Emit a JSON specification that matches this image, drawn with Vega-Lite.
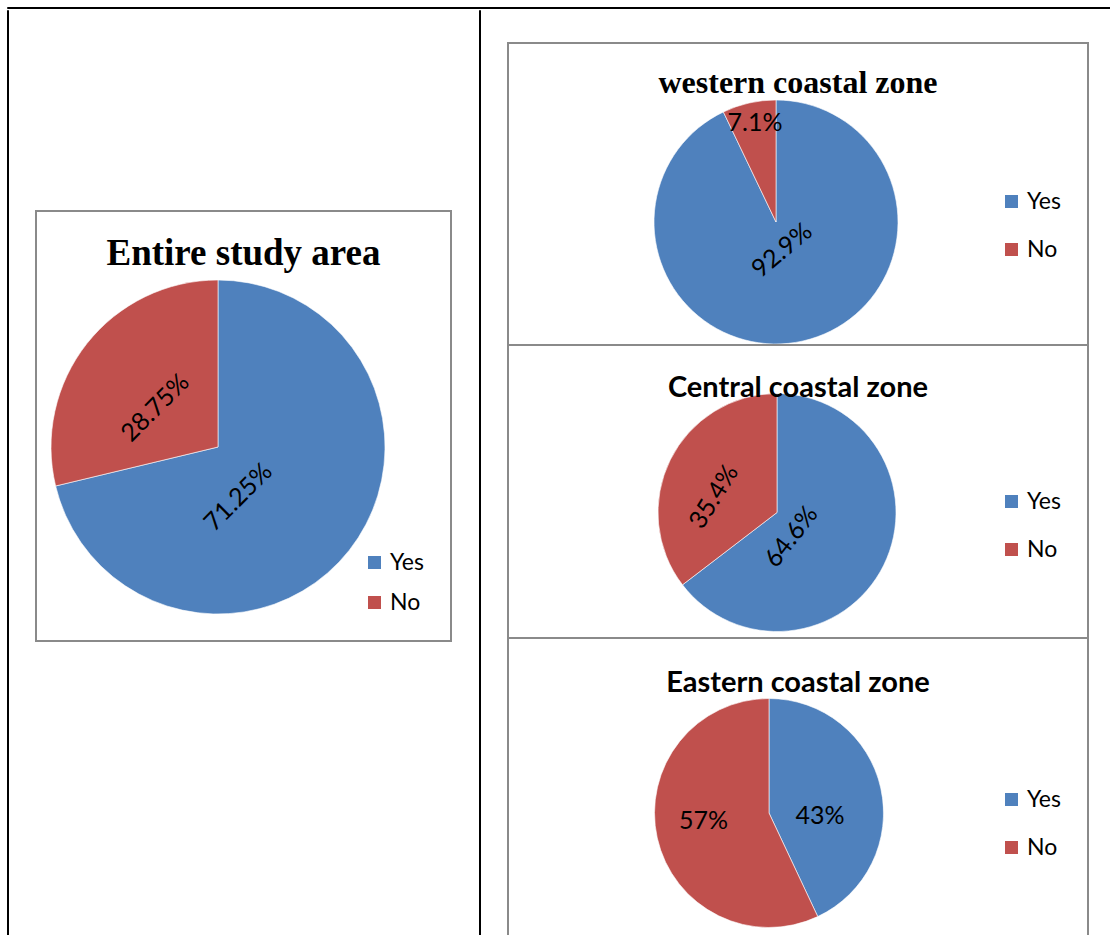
{
  "$schema": "https://vega.github.io/schema/vega-lite/v6.json",
  "padding": {"left": 6, "top": 6, "right": 0, "bottom": 0},
  "background": "white",
  "datasets": {
    "survey": [
      {"zone": "Entire study area", "answer": "Yes", "share": 0.7125},
      {"zone": "Entire study area", "answer": "No", "share": 0.2875},
      {"zone": "western coastal zone", "answer": "Yes", "share": 0.929},
      {"zone": "western coastal zone", "answer": "No", "share": 0.071},
      {"zone": "Central coastal zone", "answer": "Yes", "share": 0.646},
      {"zone": "Central coastal zone", "answer": "No", "share": 0.354},
      {"zone": "Eastern coastal zone", "answer": "Yes", "share": 0.43},
      {"zone": "Eastern coastal zone", "answer": "No", "share": 0.57}
    ]
  },
  "config": {
    "view": {"stroke": null},
    "legend": {
      "symbolType": "square",
      "symbolSize": 169,
      "symbolStrokeWidth": 0,
      "labelFont": "Lato",
      "labelFontSize": 23,
      "labelColor": "black",
      "labelOffset": 4,
      "padding": 0
    },
    "title": {"color": "black", "anchor": "middle", "frame": "group", "baseline": "alphabetic"}
  },
  "spacing": 0,
  "resolve": {"scale": {"color": "independent", "theta": "independent"}, "legend": {"color": "independent"}},
  "vconcat": [
    {
      "width": 1110, "height": 1,
      "data": {"values": []}, "mark": "point",
      "view": {"stroke": "black", "strokeWidth": 1}
    },
    {
      "spacing": 26,
      "resolve": {"scale": {"color": "independent", "theta": "independent"}, "legend": {"color": "independent"}},
      "hconcat": [
        {
          "width": 1, "height": 935,
          "data": {"values": []}, "mark": "point",
          "view": {"stroke": "black", "strokeWidth": 1}
        },
        {
          "spacing": 200,
          "bounds": "flush",
          "resolve": {"scale": {"color": "independent", "theta": "independent"}, "legend": {"color": "independent"}},
          "vconcat": [
            {"width": 415, "height": 1, "data": {"values": []}, "mark": "point"},
            {
              "width": 415, "height": 430,
              "view": {"stroke": "#8a8a8a", "strokeWidth": 2},
              "title": {"text": "Entire study area", "font": "Liberation Serif", "fontSize": 37, "fontWeight": "bold", "offset": -62},
              "data": {"name": "survey"},
              "transform": [{"filter": "datum.zone === 'Entire study area'"}],
              "encoding": {
                "theta": {"field": "share", "type": "quantitative", "stack": true},
                "order": {"field": "answer", "sort": "descending"}
              },
              "layer": [
                {
                  "mark": {"type": "arc", "x": 182, "y": 236, "radius": 167, "stroke": "white", "strokeWidth": 0.6},
                  "encoding": {
                    "color": {
                      "field": "answer", "type": "nominal",
                      "scale": {"domain": ["Yes", "No"], "range": ["#4F81BD", "#C0504D"]},
                      "legend": {"title": null, "orient": "none", "legendX": 327, "legendY": 340, "rowPadding": 16}
                    }
                  }
                },
                {
                  "mark": {"type": "text", "x": 182, "y": 236, "radius": 54, "thetaOffset": 0.519, "angle": 315, "font": "Lato", "fontSize": 25, "align": "center", "baseline": "middle", "color": "black"},
                  "encoding": {
                    "detail": {"field": "answer"},
                    "text": {"condition": {"test": "datum.answer === 'Yes'", "field": "share", "type": "quantitative", "format": ".2%"}, "value": ""}
                  }
                },
                {
                  "mark": {"type": "text", "x": 182, "y": 236, "radius": 74, "thetaOffset": -0.109, "angle": 315, "font": "Lato", "fontSize": 25, "align": "center", "baseline": "middle", "color": "black"},
                  "encoding": {
                    "detail": {"field": "answer"},
                    "text": {"condition": {"test": "datum.answer === 'No'", "field": "share", "type": "quantitative", "format": ".2%"}, "value": ""}
                  }
                }
              ]
            }
          ]
        },
        {
          "width": 1, "height": 935,
          "data": {"values": []}, "mark": "point",
          "view": {"stroke": "black", "strokeWidth": 1}
        },
        {
          "spacing": 31,
          "resolve": {"scale": {"color": "independent", "theta": "independent"}, "legend": {"color": "independent"}},
          "vconcat": [
            {"width": 580, "height": 1, "data": {"values": []}, "mark": "point"},
            {
              "spacing": 0,
              "bounds": "flush",
              "resolve": {"scale": {"color": "independent", "theta": "independent"}, "legend": {"color": "independent"}},
              "vconcat": [
                {
                  "width": 580, "height": 302,
                  "view": {"stroke": "#8a8a8a", "strokeWidth": 2},
                  "title": {"text": "western coastal zone", "font": "Liberation Serif", "fontSize": 32, "fontWeight": "bold", "offset": -57},
                  "data": {"name": "survey"},
                  "transform": [{"filter": "datum.zone === 'western coastal zone'"}],
                  "encoding": {
                    "theta": {"field": "share", "type": "quantitative", "stack": true},
                    "order": {"field": "answer", "sort": "descending"}
                  },
                  "layer": [
                    {
                      "mark": {"type": "arc", "x": 268, "y": 179, "radius": 122, "stroke": "white", "strokeWidth": 0.6},
                      "encoding": {
                        "color": {
                          "field": "answer", "type": "nominal",
                          "scale": {"domain": ["Yes", "No"], "range": ["#4F81BD", "#C0504D"]},
                          "legend": {"title": null, "orient": "none", "legendX": 492, "legendY": 147, "rowPadding": 24}
                        }
                      }
                    },
                    {
                      "mark": {"type": "text", "x": 268, "y": 179, "radius": 29, "thetaOffset": 0.014, "angle": 320, "font": "Lato", "fontSize": 25, "align": "center", "baseline": "middle", "color": "black"},
                      "encoding": {
                        "detail": {"field": "answer"},
                        "text": {"condition": {"test": "datum.answer === 'Yes'", "field": "share", "type": "quantitative", "format": ".1%"}, "value": ""}
                      }
                    },
                    {
                      "mark": {"type": "text", "x": 268, "y": 179, "radius": 101, "thetaOffset": 0.014, "angle": 0, "font": "Lato", "fontSize": 25, "align": "center", "baseline": "middle", "color": "black"},
                      "encoding": {
                        "detail": {"field": "answer"},
                        "text": {"condition": {"test": "datum.answer === 'No'", "field": "share", "type": "quantitative", "format": ".1%"}, "value": ""}
                      }
                    }
                  ]
                },
                {
                  "width": 580, "height": 293,
                  "view": {"stroke": "#8a8a8a", "strokeWidth": 2},
                  "title": {"text": "Central coastal zone", "font": "Lato", "fontSize": 29, "fontWeight": "bold", "offset": -58},
                  "data": {"name": "survey"},
                  "transform": [{"filter": "datum.zone === 'Central coastal zone'"}],
                  "encoding": {
                    "theta": {"field": "share", "type": "quantitative", "stack": true},
                    "order": {"field": "answer", "sort": "descending"}
                  },
                  "layer": [
                    {
                      "mark": {"type": "arc", "x": 269, "y": 167.5, "radius": 119, "stroke": "white", "strokeWidth": 0.6},
                      "encoding": {
                        "color": {
                          "field": "answer", "type": "nominal",
                          "scale": {"domain": ["Yes", "No"], "range": ["#4F81BD", "#C0504D"]},
                          "legend": {"title": null, "orient": "none", "legendX": 492, "legendY": 145, "rowPadding": 24}
                        }
                      }
                    },
                    {
                      "mark": {"type": "text", "x": 269, "y": 167.5, "radius": 28, "thetaOffset": 0.578, "angle": 308, "font": "Lato", "fontSize": 25, "align": "center", "baseline": "middle", "color": "black"},
                      "encoding": {
                        "detail": {"field": "answer"},
                        "text": {"condition": {"test": "datum.answer === 'Yes'", "field": "share", "type": "quantitative", "format": ".1%"}, "value": ""}
                      }
                    },
                    {
                      "mark": {"type": "text", "x": 269, "y": 167.5, "radius": 65, "thetaOffset": -0.215, "angle": 302, "font": "Lato", "fontSize": 25, "align": "center", "baseline": "middle", "color": "black"},
                      "encoding": {
                        "detail": {"field": "answer"},
                        "text": {"condition": {"test": "datum.answer === 'No'", "field": "share", "type": "quantitative", "format": ".1%"}, "value": ""}
                      }
                    }
                  ]
                },
                {
                  "width": 580, "height": 300,
                  "view": {"stroke": "#8a8a8a", "strokeWidth": 2},
                  "title": {"text": "Eastern coastal zone", "font": "Lato", "fontSize": 29, "fontWeight": "bold", "offset": -60},
                  "data": {"name": "survey"},
                  "transform": [{"filter": "datum.zone === 'Eastern coastal zone'"}],
                  "encoding": {
                    "theta": {"field": "share", "type": "quantitative", "stack": true},
                    "order": {"field": "answer", "sort": "descending"}
                  },
                  "layer": [
                    {
                      "mark": {"type": "arc", "x": 261, "y": 175, "radius": 114.5, "stroke": "white", "strokeWidth": 0.6},
                      "encoding": {
                        "color": {
                          "field": "answer", "type": "nominal",
                          "scale": {"domain": ["Yes", "No"], "range": ["#4F81BD", "#C0504D"]},
                          "legend": {"title": null, "orient": "none", "legendX": 492, "legendY": 150, "rowPadding": 24}
                        }
                      }
                    },
                    {
                      "mark": {"type": "text", "x": 261, "y": 175, "radius": 51, "thetaOffset": 0.272, "angle": 0, "font": "Lato", "fontSize": 25, "align": "center", "baseline": "middle", "color": "black"},
                      "encoding": {
                        "detail": {"field": "answer"},
                        "text": {"condition": {"test": "datum.answer === 'Yes'", "field": "share", "type": "quantitative", "format": ".0%"}, "value": ""}
                      }
                    },
                    {
                      "mark": {"type": "text", "x": 261, "y": 175, "radius": 66, "thetaOffset": 0.103, "angle": 0, "font": "Lato", "fontSize": 25, "align": "center", "baseline": "middle", "color": "black"},
                      "encoding": {
                        "detail": {"field": "answer"},
                        "text": {"condition": {"test": "datum.answer === 'No'", "field": "share", "type": "quantitative", "format": ".0%"}, "value": ""}
                      }
                    }
                  ]
                }
              ]
            }
          ]
        }
      ]
    }
  ]
}
